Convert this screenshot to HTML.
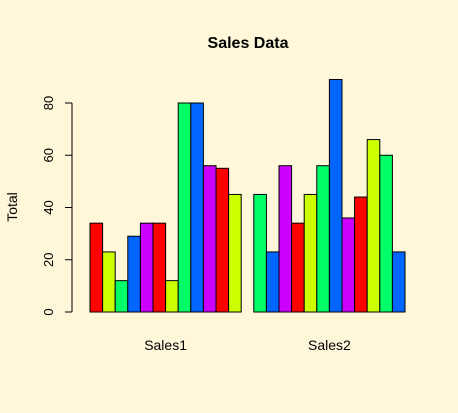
<!DOCTYPE html>
<html><head><meta charset="utf-8"><style>
html,body{margin:0;padding:0;background:#FFF7DA;}
svg{display:block;font-family:"Liberation Sans",Arial,sans-serif;}
</style></head><body>
<svg id="chart" width="458" height="413">
<rect width="458" height="413" fill="#FFF7DA"/>
<text x="248" y="48" text-anchor="middle" font-weight="bold" font-size="16">Sales Data</text>
<text transform="translate(17,207) rotate(-90)" text-anchor="middle" font-size="14">Total</text>
<g id="bars"></g><g id="yaxis"></g><g id="xlabels"></g>
</svg>
<script>
const groups = ["Sales1","Sales2"];
const sales1 = [34,23,12,29,34,34,12,80,80,56,55,45];
const sales2 = [45,23,56,34,45,56,89,36,44,66,60,23];
const yTicks = [0,20,40,60,80];
const colors1 = ["#FF0000","#CCFF00","#00FF66","#0066FF","#CC00FF"];
const colors2 = ["#00FF66","#0066FF","#CC00FF","#FF0000","#CCFF00"];
const NS="http://www.w3.org/2000/svg";
const y0=312, pxPer=(312-103)/80, x0=90, bw=12.6;
const y=v=>y0-v*pxPer;
const barsG=document.getElementById('bars');
function drawGroup(vals,cols,startIdx,gname){
  vals.forEach((v,i)=>{
    const r=document.createElementNS(NS,'rect');
    r.setAttribute('x',x0+(startIdx+i)*bw);
    r.setAttribute('y',y(v));
    r.setAttribute('width',bw);
    r.setAttribute('height',y0-y(v));
    r.setAttribute('fill',cols[i%cols.length]);
    r.setAttribute('stroke','#000');
    r.setAttribute('stroke-width','1');
    
    
    barsG.appendChild(r);
  });
}
drawGroup(sales1,colors1,0,'sales1');
drawGroup(sales2,colors2,sales1.length+1,'sales2');
const ya=document.getElementById('yaxis');
const axisLine=document.createElementNS(NS,'line');
axisLine.setAttribute('x1',72);axisLine.setAttribute('x2',72);
axisLine.setAttribute('y1',y(yTicks[0]));axisLine.setAttribute('y2',y(yTicks[yTicks.length-1]));
axisLine.setAttribute('stroke','#000');


ya.appendChild(axisLine);
yTicks.forEach(t=>{
  const l=document.createElementNS(NS,'line');
  l.setAttribute('x1',65);l.setAttribute('x2',72);
  l.setAttribute('y1',y(t));l.setAttribute('y2',y(t));
  l.setAttribute('stroke','#000');
  
  
  ya.appendChild(l);
  const tx=document.createElementNS(NS,'text');
  tx.setAttribute('transform','translate(53,'+y(t)+') rotate(-90)');
  tx.setAttribute('text-anchor','middle');
  tx.setAttribute('font-size','13');
  tx.textContent=t;
  
  
  ya.appendChild(tx);
});
const xl=document.getElementById('xlabels');
const lens=[sales1.length,sales2.length];
let start=0;
groups.forEach((g,i)=>{
  const cx=x0+(start+lens[i]/2)*bw;
  const tx=document.createElementNS(NS,'text');
  tx.setAttribute('x',cx);tx.setAttribute('y',350);
  tx.setAttribute('text-anchor','middle');tx.setAttribute('font-size','14');
  tx.textContent=g;
  
  
  xl.appendChild(tx);
  start+=lens[i]+1;
});
</script>
</body></html>
